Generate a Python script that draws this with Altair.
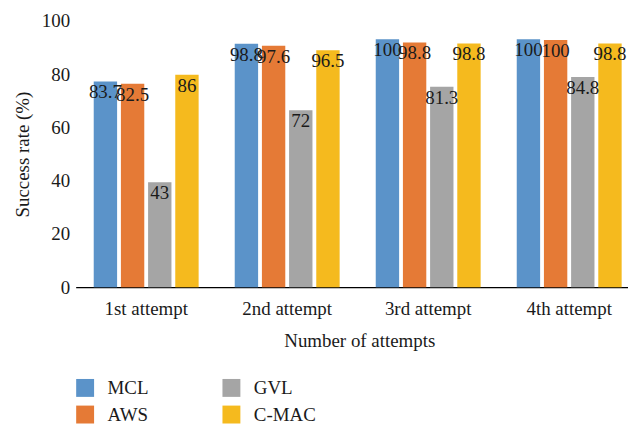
import altair as alt
import pandas as pd

attempts = ["1st attempt", "2nd attempt", "3rd attempt", "4th attempt"]
methods = ["MCL", "AWS", "GVL", "C-MAC"]
colors = ["#5B93C9", "#E57A36", "#A5A5A5", "#F5BA1E"]

# printed value labels
labels = {
    "MCL": ["83.7", "98.8", "100", "100"],
    "AWS": ["82.5", "97.6", "98.8", "100"],
    "GVL": ["43", "72", "81.3", "84.8"],
    "C-MAC": ["86", "96.5", "98.8", "98.8"],
}
# bar heights as drawn against the axis
heights = {
    "MCL": [77.3, 91.4, 93.1, 93.1],
    "AWS": [76.4, 90.7, 91.9, 92.8],
    "GVL": [39.4, 66.5, 75.3, 78.9],
    "C-MAC": [79.8, 89.0, 91.5, 91.5],
}
y_ticks = [0, 20, 40, 60, 80, 100]

rows = []
for m in methods:
    for i, a in enumerate(attempts):
        rows.append({"attempt": a, "method": m, "height": heights[m][i], "label": labels[m][i]})
df = pd.DataFrame(rows)

FONT = "Liberation Serif"
FS = 19

x_enc = alt.X("attempt:N", sort=attempts,
              scale=alt.Scale(paddingInner=0.256, paddingOuter=0.0865, align=0.74),
              axis=alt.Axis(title="Number of attempts", labelAngle=0, ticks=False, tickSize=0,
                            labelPadding=12, titlePadding=14, domainColor="#000000",
                            domainWidth=1.3, titleX=285))
xo_enc = alt.XOffset("method:N", sort=methods, scale=alt.Scale(paddingInner=0.14, paddingOuter=0))

base = alt.Chart(df)

bars = base.mark_bar().encode(
    x=x_enc,
    xOffset=xo_enc,
    y=alt.Y("height:Q", scale=alt.Scale(domain=[0, 100], nice=False),
            axis=alt.Axis(title="Success rate (%)", values=y_ticks, domain=False, ticks=False,
                          grid=False, labelPadding=6, titlePadding=9)),
    color=alt.Color("method:N", sort=methods,
                    scale=alt.Scale(domain=methods, range=colors),
                    legend=alt.Legend(title=None, orient="none", legendX=0, legendY=359,
                                      columns=2, values=methods,
                                      symbolType="square", symbolSize=324, symbolStrokeWidth=0,
                                      labelFontSize=FS, labelFont=FONT, labelColor="#1a1a1a",
                                      labelOffset=13, columnPadding=73, rowPadding=7, padding=0)),
)

text = base.mark_text(baseline="alphabetic", dy=17, fontSize=FS, font=FONT, color="#1a1a1a").encode(
    x=alt.X("attempt:N", sort=attempts),
    xOffset=alt.XOffset("method:N", sort=methods),
    y=alt.Y("height:Q"),
    text="label:N",
)

chart = (bars + text).properties(
    width=555, height=267.5,
    padding={"left": 5, "top": 3, "right": 0, "bottom": 0},
).configure_view(stroke=None).configure_axis(
    labelFont=FONT, titleFont=FONT, labelFontSize=FS, titleFontSize=FS,
    labelColor="#1a1a1a", titleColor="#1a1a1a", titleFontWeight="normal",
)

chart.save("out.html", embed_options={"renderer": "svg", "actions": False})
